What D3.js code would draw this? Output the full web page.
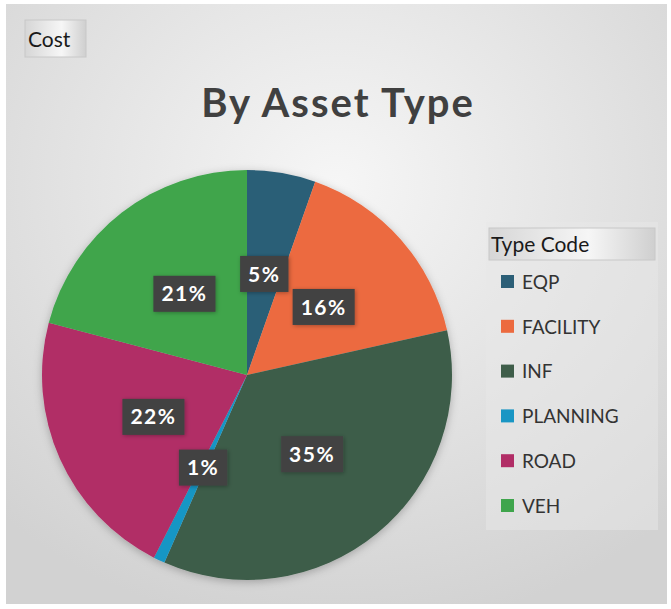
<!DOCTYPE html>
<html>
<head>
<meta charset="utf-8">
<script src="https://cdn.jsdelivr.net/npm/d3@7"></script>
<style>
  html, body { margin: 0; padding: 0; background: #fff; }
  svg { display: block; }
</style>
</head>
<body>
<svg id="chart"></svg>
<script>
const categories = ["EQP", "FACILITY", "INF", "PLANNING", "ROAD", "VEH"];
const costShare = [5.4, 16.1, 35.1, 0.9, 21.6, 20.9];
const pctLabels = ["5%", "16%", "35%", "1%", "22%", "21%"];
const sliceColors = ["#2c5f77", "#ec6a3f", "#3e5d49", "#1996c4", "#b12d66", "#3fa54c"];

const width = 671, height = 609;
const cx = 247, cy = 375, radius = 205;

const svg = d3.select("#chart")
    .attr("width", width)
    .attr("height", height)
    .style("font-family", "Lato, 'Open Sans', sans-serif");

const defs = svg.append("defs");

// page background: grey with a lighter centre
const bg = defs.append("radialGradient")
    .attr("id", "bg")
    .attr("cx", "50%").attr("cy", "30%").attr("r", "75%");
bg.append("stop").attr("offset", "0%").attr("stop-color", "#f6f6f6");
bg.append("stop").attr("offset", "100%").attr("stop-color", "#d2d2d2");

const btn = defs.append("linearGradient")
    .attr("id", "btn").attr("x1", 0).attr("x2", 1).attr("y1", 0).attr("y2", 0);
btn.append("stop").attr("offset", "0%").attr("stop-color", "#d6d6d6");
btn.append("stop").attr("offset", "60%").attr("stop-color", "#f6f6f6");
btn.append("stop").attr("offset", "100%").attr("stop-color", "#cfcfcf");

const shadow = defs.append("filter").attr("id", "shadow")
    .attr("x", "-20%").attr("y", "-20%").attr("width", "140%").attr("height", "140%");
shadow.append("feDropShadow")
    .attr("dx", 0).attr("dy", 2).attr("stdDeviation", 4)
    .attr("flood-color", "#000").attr("flood-opacity", 0.25);

const boxShadow = defs.append("filter").attr("id", "boxShadow")
    .attr("x", "-30%").attr("y", "-30%").attr("width", "160%").attr("height", "160%");
boxShadow.append("feDropShadow")
    .attr("dx", 1).attr("dy", 1).attr("stdDeviation", 2)
    .attr("flood-color", "#000").attr("flood-opacity", 0.3);

svg.append("rect")
    .attr("x", 6).attr("y", 4)
    .attr("width", width - 10).attr("height", height - 9)
    .attr("fill", "url(#bg)");

// top-left field button
svg.append("rect")
    .attr("x", 25).attr("y", 20).attr("width", 61).attr("height", 37)
    .attr("fill", "url(#btn)")
    .attr("stroke", "#c8c8c8");
svg.append("text")
    .attr("x", 28).attr("y", 47)
    .attr("font-size", 21)
    .attr("fill", "#1a1a1a")
    .text("Cost");

// Title
svg.append("text")
    .attr("x", 338).attr("y", 117)
    .attr("text-anchor", "middle")
    .attr("font-size", 40)
    .attr("font-weight", "bold")
    .attr("letter-spacing", 2)
    .attr("fill", "#404040")
    .text("By Asset Type");

// Pie
const pie = d3.pie().sort(null).value(d => d)(costShare);
const arc = d3.arc().innerRadius(0).outerRadius(radius);

const g = svg.append("g").attr("transform", `translate(${cx},${cy})`);

g.append("g")
    .attr("filter", "url(#shadow)")
    .selectAll("path")
    .data(pie)
    .join("path")
    .attr("d", arc)
    .attr("fill", (d, i) => sliceColors[i]);

// data labels at half radius
const labels = g.selectAll(".lbl")
    .data(pie)
    .join("g")
    .attr("class", "lbl")
    .attr("transform", d => `translate(${arc.centroid(d)})`);

labels.append("text")
    .attr("text-anchor", "middle")
    .attr("dy", "0.36em")
    .attr("font-size", 21)
    .attr("font-weight", "bold")
    .attr("letter-spacing", 1.5)
    .attr("fill", "#fff")
    .text((d, i) => pctLabels[i]);

labels.each(function() {
    const t = d3.select(this).select("text");
    const bb = t.node().getBBox();
    d3.select(this).insert("rect", "text")
        .attr("x", bb.x - 8).attr("y", -18)
        .attr("width", bb.width + 16).attr("height", 36)
        .attr("fill", "#434343")
        .attr("filter", "url(#boxShadow)");
});

// Legend
const lx = 486, ly = 222;
svg.append("rect")
    .attr("x", lx).attr("y", ly).attr("width", 172).attr("height", 308)
    .attr("fill", "#e8e8e8").attr("opacity", 0.5);

svg.append("rect")
    .attr("x", 489).attr("y", 228).attr("width", 166).attr("height", 32)
    .attr("fill", "url(#btn)")
    .attr("stroke", "#c8c8c8");
svg.append("text")
    .attr("x", 491).attr("y", 252)
    .attr("font-size", 21)
    .attr("fill", "#1a1a1a")
    .text("Type Code");

const legendY = d3.scalePoint()
    .domain(categories)
    .range([282, 506]);

const items = svg.selectAll(".legend-item")
    .data(categories)
    .join("g")
    .attr("class", "legend-item")
    .attr("transform", d => `translate(501,${legendY(d)})`);

items.append("rect")
    .attr("x", 0).attr("y", -7)
    .attr("width", 13).attr("height", 13)
    .attr("fill", (d, i) => sliceColors[i]);

items.append("text")
    .attr("x", 21).attr("dy", "0.36em")
    .attr("font-size", 19)
    .attr("fill", "#333")
    .text(d => d);
</script>
</body>
</html>
